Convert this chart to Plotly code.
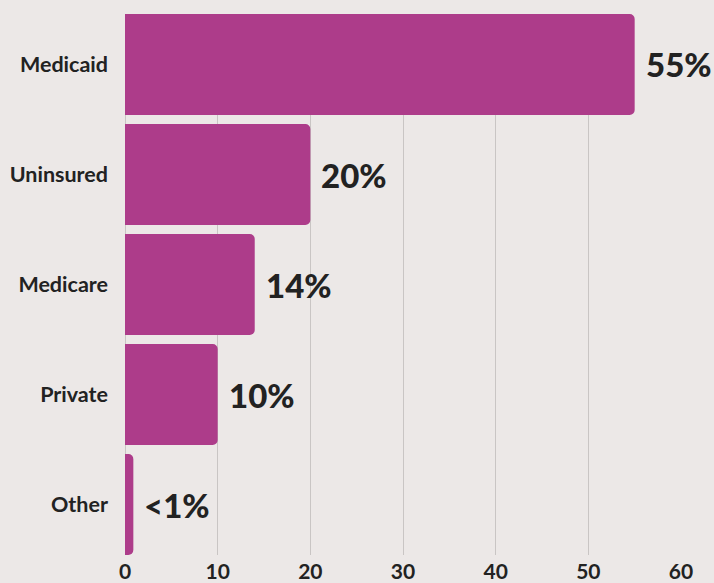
import plotly.graph_objects as go

categories = ["Medicaid", "Uninsured", "Medicare", "Private", "Other"]
values = [55, 20, 14, 10, 0.9]
value_labels = ["55%", "20%", "14%", "10%", "<1%"]
x_ticks = [0, 10, 20, 30, 40, 50, 60]

BAR = "#AD3C8A"
BG = "#ECE8E7"
TXT = "#222222"

ypos = list(range(len(categories)))

fig = go.Figure()
fig.add_trace(go.Bar(
    x=values, y=ypos, orientation="h",
    marker=dict(color=BAR, line=dict(width=0)),
    width=0.918, hoverinfo="skip",
))

for v, y, t in zip(values, ypos, value_labels):
    fig.add_annotation(x=v, y=y, text=t, showarrow=False, xanchor="left",
                       yanchor="middle", xshift=9,
                       font=dict(family="Lato", size=33, color=TXT, weight=900))

fig.update_layout(
    width=714, height=583,
    margin=dict(l=125, r=33, t=14, b=28, autoexpand=False),
    paper_bgcolor=BG, plot_bgcolor=BG,
    showlegend=False,
    barcornerradius=5,
    font=dict(family="Lato", color=TXT),
    xaxis=dict(range=[0, 60], tickvals=x_ticks, showgrid=True,
               gridcolor="#C9C5C4", gridwidth=1, zeroline=True,
               zerolinecolor="#C9C5C4", zerolinewidth=1, showline=False,
               tickfont=dict(family="Lato", size=21, color=TXT, weight="bold"),
               ticks="", ticklabelstandoff=2, automargin=False),
    yaxis=dict(range=[4.459, -0.459], tickvals=ypos, ticktext=categories,
               showgrid=False, zeroline=False, showline=False, ticks="",
               ticklabelstandoff=16, automargin=False,
               tickfont=dict(family="Lato", size=21.5, color=TXT, weight="bold")),
)

fig.write_html("out.html", config={"displayModeBar": False},
               post_script="document.body.style.margin='0';document.body.style.padding='0';document.body.style.background='#ECE8E7';")
